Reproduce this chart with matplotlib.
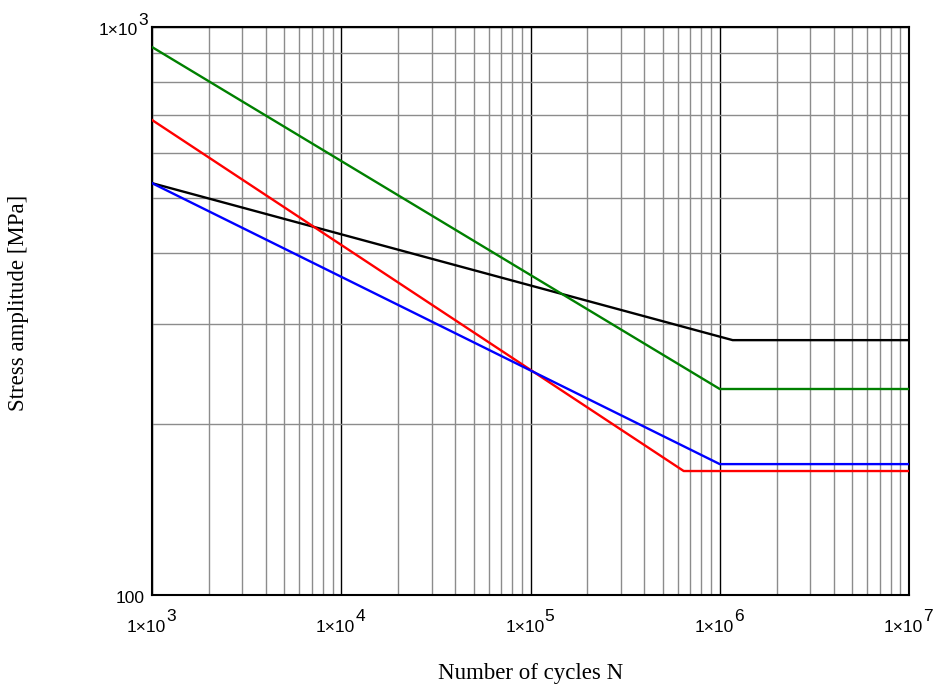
import math
import matplotlib
matplotlib.use("Agg")
import matplotlib.pyplot as plt
from matplotlib.ticker import FixedLocator, LogLocator, NullFormatter

# Data (knee points of S-N curves)
black_N = [1e3, 1.17e6, 1e7]
black_S = [531, 281, 281]
green_N = [1e3, 1e6, 1e7]
green_S = [922, 230.5, 230.5]
red_N = [1e3, 6.45e5, 1e7]
red_S = [686, 165.3, 165.3]
blue_N = [1e3, 1e6, 1e7]
blue_S = [531, 170, 170]

x_ticks = [1e3, 1e4, 1e5, 1e6, 1e7]
y_ticks = [100, 1000]

fig = plt.figure(figsize=(9.39, 6.86), dpi=100)
ax = fig.add_axes([152/939, 1-595/686, (909-152)/939, (595-27)/686])
ax.set_xscale('log')
ax.set_yscale('log')
ax.set_xlim(1e3, 1e7)
ax.set_ylim(100, 1000)

ax.xaxis.set_major_locator(FixedLocator(x_ticks))
ax.yaxis.set_major_locator(FixedLocator(y_ticks))
ax.xaxis.set_minor_locator(LogLocator(base=10, subs=range(2, 10), numticks=20))
ax.yaxis.set_minor_locator(LogLocator(base=10, subs=range(2, 10), numticks=20))
for a in (ax.xaxis, ax.yaxis):
    a.set_major_formatter(NullFormatter())
    a.set_minor_formatter(NullFormatter())

ax.grid(True, which='minor', color='#8c8c8c', linewidth=1.0)
ax.grid(True, which='major', color='black', linewidth=1.0)
ax.set_axisbelow(True)
ax.tick_params(which='both', length=0)

for sp in ax.spines.values():
    sp.set_linewidth(1.5)
    sp.set_color('black')

lw = 1.7
ax.plot(black_N, black_S, color='black', lw=lw, zorder=3)
ax.plot(green_N, green_S, color='#008000', lw=lw, zorder=3)
ax.plot(red_N, red_S, color='#ff0000', lw=lw, zorder=3)
ax.plot(blue_N, blue_S, color='#0000ff', lw=lw, zorder=3)

tfont = dict(family='Liberation Sans', fontsize=12.5, annotation_clip=False)

# x tick labels: "1×10" with full-size raised exponent
for t in x_ticks:
    e = int(round(math.log10(t)))
    ax.annotate("1×10", xy=(t, 0), xycoords=('data', 'axes fraction'),
                xytext=(14, -37), textcoords='offset pixels',
                ha='right', va='baseline', **tfont)
    ax.annotate(str(e), xy=(t, 0), xycoords=('data', 'axes fraction'),
                xytext=(14, -26), textcoords='offset pixels',
                ha='left', va='baseline', **tfont)

# y tick labels
ax.annotate("100", xy=(0, y_ticks[0]), xycoords=('axes fraction', 'data'),
            xytext=(-7, -8), textcoords='offset pixels',
            ha='right', va='baseline', **tfont)
ax.annotate("1×10", xy=(0, y_ticks[1]), xycoords=('axes fraction', 'data'),
            xytext=(-14, -8), textcoords='offset pixels',
            ha='right', va='baseline', **tfont)
ax.annotate("3", xy=(0, y_ticks[1]), xycoords=('axes fraction', 'data'),
            xytext=(-14, 2), textcoords='offset pixels',
            ha='left', va='baseline', **tfont)

fig.text(531/939, 1-679/686, "Number of cycles N", ha='center', va='baseline',
         family='Liberation Serif', fontsize=16.5)
fig.text(19/939, 1-303/686, "Stress amplitude [MPa]", ha='center', va='center',
         rotation=90, family='Liberation Serif', fontsize=16.5)

fig.savefig("out.png", dpi=100)
